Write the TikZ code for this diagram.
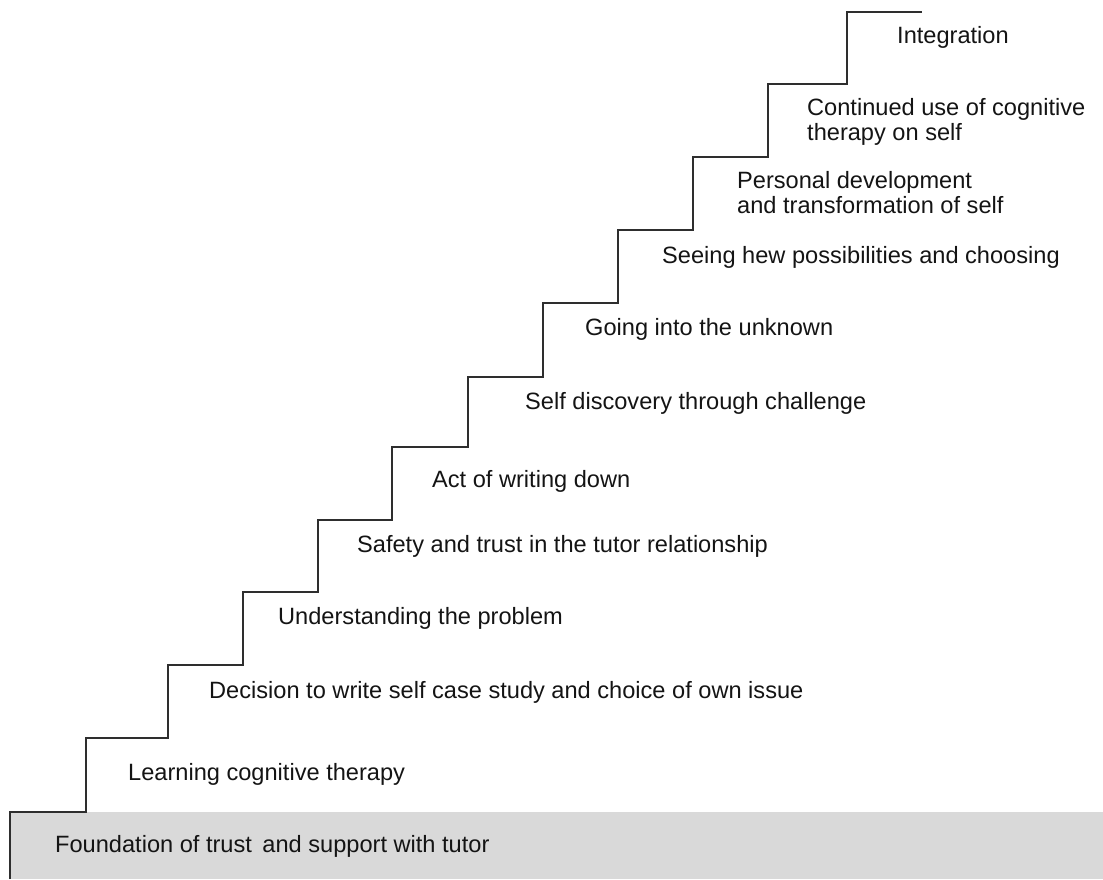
\documentclass[tikz,border=0pt]{standalone}
\usepackage{fontspec}
\setmainfont{Liberation Sans}
\begin{document}
\begin{tikzpicture}[x=1pt,y=-1pt,
  lbl/.style={anchor=base west, inner sep=0pt, font=\fontsize{23.6}{25}\selectfont, text=black!92},
  stairline/.style={draw=black!82, line width=1.8pt, line join=miter}]
\useasboundingbox (0,0) rectangle (1103,879);
% foundation
\fill[black!15] (10,812) rectangle (1103,879);
% staircase
\draw[stairline] (10,879) -- (10,812) -- (86,812) -- (86,738) -- (168,738) -- (168,665)
  -- (243,665) -- (243,592) -- (318,592) -- (318,520) -- (392,520) -- (392,447)
  -- (468,447) -- (468,377) -- (543,377) -- (543,303) -- (618,303) -- (618,230)
  -- (693,230) -- (693,157) -- (768,157) -- (768,84) -- (847,84) -- (847,12) -- (922,12);
% labels
\node[lbl] (found) at (55,852) {Foundation of trust\, and support with tutor};
\node[lbl] (learn) at (128,780) {Learning cognitive therapy};
\node[lbl] (decide) at (209,698) {Decision to write self case study and choice of own issue};
\node[lbl] (under) at (278,624) {Understanding the problem};
\node[lbl] (safety) at (357,552) {Safety and trust in the tutor relationship};
\node[lbl] (act) at (432,487) {Act of writing down};
\node[lbl] (selfd) at (525,409) {Self discovery through challenge};
\node[lbl] (going) at (585,335) {Going into the unknown};
\node[lbl] (seeing) at (662,263) {Seeing hew possibilities and choosing};
\node[lbl] (person) at (737,188) {\vtop{\hbox{Personal development}\hbox{and transformation of self}}};
\node[lbl] (contin) at (807,115) {\vtop{\hbox{Continued use of cognitive}\hbox{therapy on self}}};
\node[lbl] (integ) at (897,43) {Integration};
\end{tikzpicture}
\end{document}
